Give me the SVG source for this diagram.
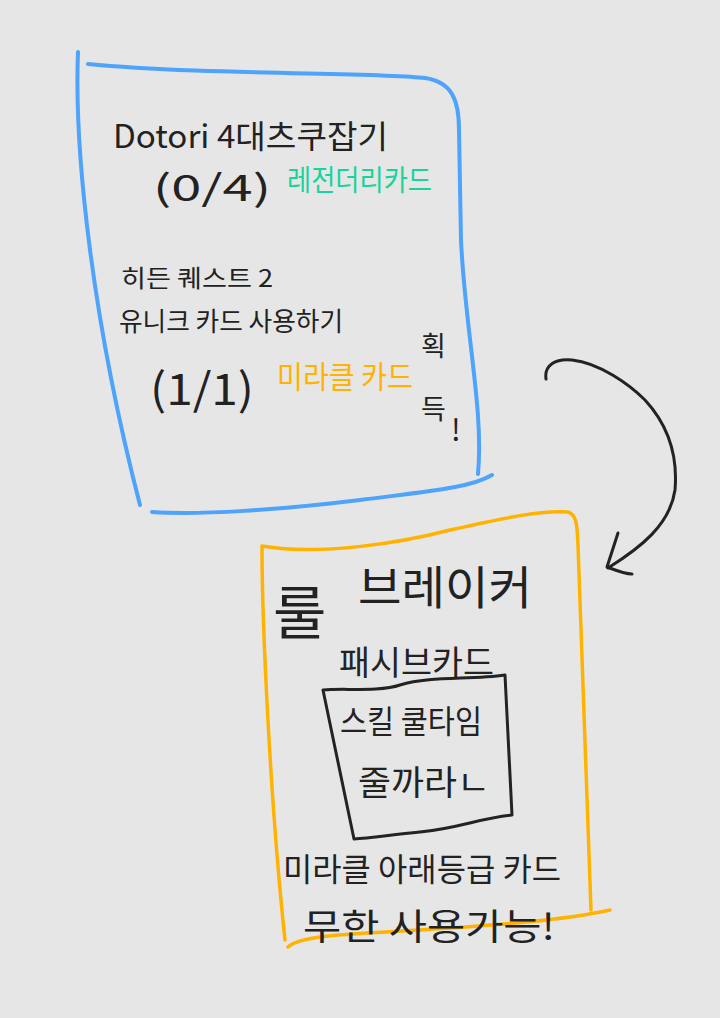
<svg xmlns="http://www.w3.org/2000/svg" width="720" height="1018" viewBox="0 0 720 1018">
<style>
.bg{fill:#e6e6e6}
.blue{fill:none;stroke:#4ea3fb;stroke-width:4;stroke-linecap:round;stroke-linejoin:round}
.orange{fill:none;stroke:#ffb300;stroke-width:3.5;stroke-linecap:round;stroke-linejoin:round}
.ink{fill:none;stroke:#232323;stroke-width:3;stroke-linecap:round;stroke-linejoin:round}
.t{font-family:"Noto Sans CJK KR","Noto Sans",sans-serif;fill:#222;font-weight:400}
.g{fill:#17d49c}
.o{fill:#ffb300}
</style>
<rect class="bg" x="0" y="0" width="720" height="1018"/>
<g id="quest-card">
  <path class="blue" d="M78,52 C74,150 92,320 140,505"/>
  <path class="blue" d="M88,64 C200,75 380,72 425,78 C452,82 459,100 459,130 L461,240 C465,330 484,410 478,474"/>
  <path class="blue" d="M152,512 C200,515 280,510 360,500 C430,491 470,488 492,475"/>
  <text class="t" x="113" y="148" font-size="32" textLength="275" lengthAdjust="spacingAndGlyphs">Dotori 4대츠쿠잡기</text>
  <text class="t" x="153" y="201" font-size="36" textLength="118" lengthAdjust="spacingAndGlyphs">(0/4)</text>
  <text class="t g" x="287" y="191" font-size="29" textLength="145" lengthAdjust="spacingAndGlyphs">레전더리카드</text>
  <text class="t" x="121" y="287" font-size="24" textLength="152" lengthAdjust="spacingAndGlyphs">히든 퀘스트 2</text>
  <text class="t" x="119" y="331" font-size="26" textLength="224" lengthAdjust="spacingAndGlyphs">유니크 카드 사용하기</text>
  <text class="t" x="150" y="405" font-size="44" textLength="104" lengthAdjust="spacingAndGlyphs">(1/1)</text>
  <text class="t o" x="277" y="388" font-size="31" textLength="136" lengthAdjust="spacingAndGlyphs">미라클 카드</text>
  <text class="t" x="421" y="356" font-size="27">획</text>
  <text class="t" x="421" y="419" font-size="27">득</text>
  <text class="t" x="451" y="441" font-size="30">!</text>
</g>
<g id="rule-breaker-card">
  <path class="orange" d="M262,548 C262,620 270,800 285,940"/>
  <path class="orange" d="M262,546 C320,556 400,543 450,530 C500,519 540,510 568,512 C578,515 577,530 578,545 L591,910"/>
  <path class="orange" d="M288,947 C300,935 350,934 420,930 C500,925 565,920 610,910"/>
  <text class="t" x="273" y="634" font-size="58">룰</text>
  <text class="t" x="358" y="604" font-size="46" textLength="174" lengthAdjust="spacingAndGlyphs">브레이커</text>
  <text class="t" x="339" y="675" font-size="34" textLength="155" lengthAdjust="spacingAndGlyphs">패시브카드</text>
</g>
<g id="passive-box">
  <path class="ink" d="M323,690 C340,688 380,692 400,685 C430,676 470,680 505,675 L512,815 C480,818 460,828 420,832 C390,835 370,838 354,839 L323,690 Z"/>
  <text class="t" x="340" y="733" font-size="32" textLength="142" lengthAdjust="spacingAndGlyphs">스킬 쿨타임</text>
  <text class="t" x="358" y="795" font-size="34" textLength="132" lengthAdjust="spacingAndGlyphs">줄까라ㄴ</text>
  <text class="t" x="283" y="881" font-size="32" textLength="278" lengthAdjust="spacingAndGlyphs">미라클 아래등급 카드</text>
  <text class="t" x="303" y="940" font-size="36" textLength="252" lengthAdjust="spacingAndGlyphs">무한 사용가능!</text>
</g>
<g id="connectors">
  <path class="ink" d="M546,379 C544,365 556,358 572,360 C600,363 630,385 645,400 C668,425 678,455 675,490 C670,525 640,548 608,568"/>
  <path class="ink" d="M618,533 L607,567 C615,570 625,574 632,574"/>
</g>
</svg>
